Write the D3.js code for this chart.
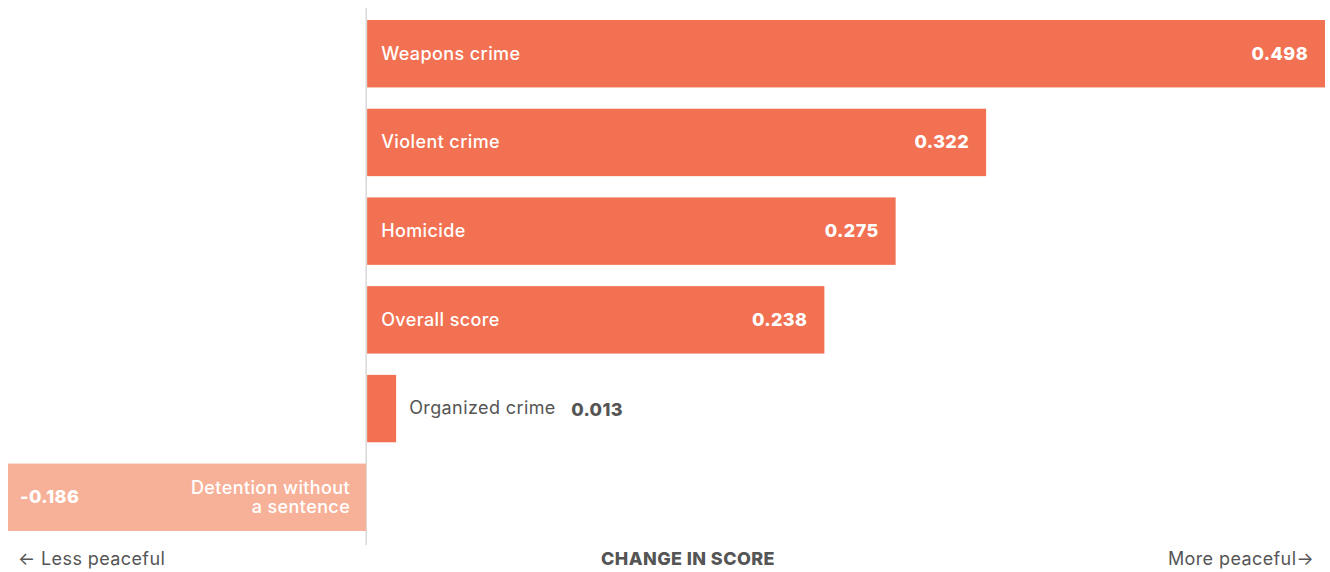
<!DOCTYPE html>
<html>
<head>
<meta charset="utf-8">
<script src="https://cdn.jsdelivr.net/npm/d3@7"></script>
<style>
  body { margin: 0; background: #fff; }
  svg text { font-family: "Inter", "Lato", sans-serif; font-size: 18px; letter-spacing: 0.4px; }
</style>
</head>
<body>
<script>
let categories = ["Weapons crime", "Violent crime", "Homicide", "Overall score", "Organized crime", "Detention without|a sentence"];
let values = [0.498, 0.322, 0.275, 0.238, 0.013, -0.186];
let axisLabels = ["Less peaceful", "CHANGE IN SCORE", "More peaceful"];

let width = 1330, height = 572;

let data = categories.map((c, i) => ({name: c, value: values[i]}));
let fmt = v => (v < 0 ? "-" : "") + d3.format(".3f")(Math.abs(v));

let svg = d3.select("body").append("svg")
    .attr("width", width)
    .attr("height", height);

  // x scale, zero lands at ~366
let x = d3.scaleLinear()
    .domain([-0.186, 0.498])
    .range([8, 1325]);

let y = d3.scaleBand()
    .domain(categories)
    .range([20, 531])
    .paddingInner(0.24)
    .paddingOuter(0);

  // zero line
svg.append("line")
    .attr("x1", x(0)).attr("x2", x(0))
    .attr("y1", 8).attr("y2", 545)
    .attr("stroke", "#c4c4c4")
    .attr("stroke-width", 1);

let node = svg.selectAll(".bar")
    .data(data)
    .enter()
  .append("g")
    .attr("class", "bar");

node.append("rect")
    .attr("x", d => d.value >= 0 ? x(0) + 1 : x(d.value))
    .attr("y", d => y(d.name))
    .attr("width", d => Math.max(Math.abs(x(d.value) - x(0)) - (d.value >= 0 ? 1 : 0), 29))
    .attr("height", y.bandwidth())
    .style("fill", d => d.value >= 0 ? "#f27152" : "#f8b199");

  // labels
node.each(function(d) {
    let g = d3.select(this);
    let cy = y(d.name) + y.bandwidth() / 2;
    let barW = Math.abs(x(d.value) - x(0));
    if (d.value < 0) {
        let lines = d.name.split("|");
        let t = g.append("text")
            .attr("x", x(0) - 16)
            .attr("y", cy - 3)
            .attr("text-anchor", "end")
            .style("font-weight", "500")
            .style("fill", "#fff");
        lines.forEach((l, i) => {
            t.append("tspan")
                .attr("x", x(0) - 16)
                .attr("dy", i === 0 ? 0 : 19)
                .text(l);
        });
        g.append("text")
            .attr("x", x(d.value) + 12)
            .attr("y", cy + 6)
            .style("font-weight", "800")
            .style("fill", "#fff")
            .text(fmt(d.value));
    } else if (barW < 100) {
        g.append("text")
            .attr("x", x(0) + 43)
            .attr("y", cy + 5)
            .style("fill", "#555")
            .text(d.name);
        g.append("text")
            .attr("x", x(0) + 205)
            .attr("y", cy + 7)
            .style("font-weight", "800")
            .style("fill", "#555")
            .text(fmt(d.value));
    } else {
        g.append("text")
            .attr("x", x(0) + 15)
            .attr("y", cy + 6)
            .style("font-weight", "500")
            .style("fill", "#fff")
            .text(d.name);
        g.append("text")
            .attr("x", x(d.value) - 17)
            .attr("y", cy + 6)
            .attr("text-anchor", "end")
            .style("font-weight", "800")
            .style("fill", "#fff")
            .text(fmt(d.value));
    }
});

  // bottom labels
svg.append("text")
    .attr("x", 18).attr("y", 565)
    .style("fill", "#555")
    .text("\u2190 " + axisLabels[0]);

svg.append("text")
    .attr("x", 688).attr("y", 565)
    .attr("text-anchor", "middle")
    .style("font-weight", "800")
    .style("fill", "#555")
    .text(axisLabels[1]);

svg.append("text")
    .attr("x", 1314).attr("y", 565)
    .attr("text-anchor", "end")
    .style("fill", "#555")
    .text(axisLabels[2] + "\u2192");
</script>
</body>
</html>
